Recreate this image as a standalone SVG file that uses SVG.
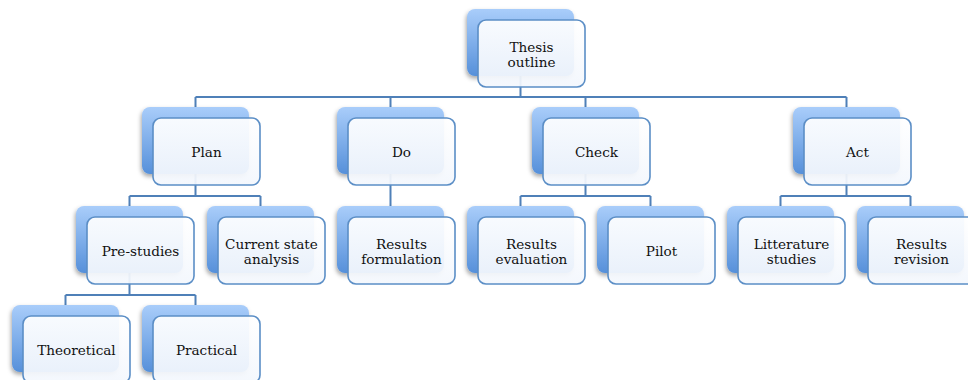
<svg xmlns="http://www.w3.org/2000/svg" width="968" height="380" viewBox="0 0 968 380">
  <defs>
    <linearGradient id="backFill" x1="0" y1="0" x2="0" y2="1">
      <stop offset="0" stop-color="#a9cdfa"/>
      <stop offset="1" stop-color="#5690da"/>
    </linearGradient>
    <linearGradient id="frontFill" x1="0" y1="0" x2="0" y2="1">
      <stop offset="0" stop-color="#ffffff"/>
      <stop offset="1" stop-color="#f3f7fd"/>
    </linearGradient>
    <filter id="shadow" x="-20%" y="-20%" width="140%" height="150%">
      <feDropShadow dx="-1" dy="2.5" stdDeviation="2" flood-color="#000" flood-opacity="0.35"/>
    </filter>
    <!-- one node: blue back card with a lighter outlined card in front -->
    <g id="card">
      <rect class="back" x="0" y="0" width="107" height="67" rx="8"/>
      <rect class="front" x="11" y="11" width="107" height="67" rx="8"/>
    </g>
  </defs>
  <style>
    .back { fill: url(#backFill); filter: url(#shadow); }
    .front { fill: url(#frontFill); fill-opacity: 0.93; stroke: #5b8ec6; stroke-width: 1.6; }
    .conn { fill: none; stroke: #4f80b8; stroke-width: 2; }
    text { font-family: "DejaVu Serif", "Liberation Serif", serif; font-size: 13.6px; fill: #111; text-anchor: middle; }
  </style>

  <rect width="968" height="380" fill="#ffffff"/>

  <g id="connectors">
    <path class="conn" d="M520.5 76 V97 M195.5 97 H846.5 M195.5 97 V107 M390.5 97 V107 M585.5 97 V107 M846.5 97 V107"/>
    <path class="conn" d="M195.5 174 V196 M129.5 196 H260.5 M129.5 196 V206 M260.5 196 V206"/>
    <path class="conn" d="M390.5 174 V206"/>
    <path class="conn" d="M585.5 174 V196 M520.5 196 H650.5 M520.5 196 V206 M650.5 196 V206"/>
    <path class="conn" d="M846.5 174 V196 M780.5 196 H910.5 M780.5 196 V206 M910.5 196 V206"/>
    <path class="conn" d="M129.5 273 V295 M65.5 295 H195.5 M65.5 295 V305 M195.5 295 V305"/>
  </g>

  <g id="thesis-outline" transform="translate(467 9)">
    <use href="#card"/>
    <text x="64.5" y="43">Thesis</text>
    <text x="64.5" y="58">outline</text>
  </g>

  <g id="plan" transform="translate(142 107)">
    <use href="#card"/>
    <text x="64.5" y="49.5">Plan</text>
  </g>
  <g id="do" transform="translate(337 107)">
    <use href="#card"/>
    <text x="64.5" y="49.5">Do</text>
  </g>
  <g id="check" transform="translate(532 107)">
    <use href="#card"/>
    <text x="64.5" y="49.5">Check</text>
  </g>
  <g id="act" transform="translate(793 107)">
    <use href="#card"/>
    <text x="64.5" y="49.5">Act</text>
  </g>

  <g id="pre-studies" transform="translate(76 206)">
    <use href="#card"/>
    <text x="64.5" y="49.5">Pre-studies</text>
  </g>
  <g id="current-state-analysis" transform="translate(207 206)">
    <use href="#card"/>
    <text x="64.5" y="43">Current state</text>
    <text x="64.5" y="58">analysis</text>
  </g>
  <g id="results-formulation" transform="translate(337 206)">
    <use href="#card"/>
    <text x="64.5" y="43">Results</text>
    <text x="64.5" y="58">formulation</text>
  </g>
  <g id="results-evaluation" transform="translate(467 206)">
    <use href="#card"/>
    <text x="64.5" y="43">Results</text>
    <text x="64.5" y="58">evaluation</text>
  </g>
  <g id="pilot" transform="translate(597 206)">
    <use href="#card"/>
    <text x="64.5" y="49.5">Pilot</text>
  </g>
  <g id="litterature-studies" transform="translate(727 206)">
    <use href="#card"/>
    <text x="64.5" y="43">Litterature</text>
    <text x="64.5" y="58">studies</text>
  </g>
  <g id="results-revision" transform="translate(857 206)">
    <use href="#card"/>
    <text x="64.5" y="43">Results</text>
    <text x="64.5" y="58">revision</text>
  </g>

  <g id="theoretical" transform="translate(12 305)">
    <use href="#card"/>
    <text x="64.5" y="49.5">Theoretical</text>
  </g>
  <g id="practical" transform="translate(142 305)">
    <use href="#card"/>
    <text x="64.5" y="49.5">Practical</text>
  </g>
</svg>
